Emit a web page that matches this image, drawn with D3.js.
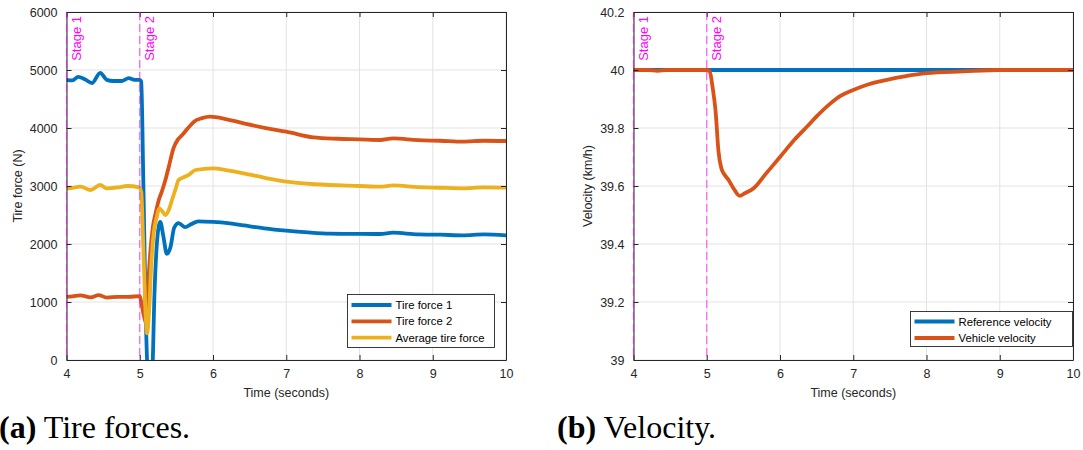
<!DOCTYPE html>
<html>
<head>
<meta charset="utf-8">
<script src="https://cdn.jsdelivr.net/npm/d3@7"></script>
<style>
  html, body { margin: 0; padding: 0; background: #fff; }
  svg { display: block; }
</style>
</head>
<body>
<svg id="fig" width="1083" height="450"></svg>
<script>
// ---- Tire forces (N) ----
const timeForce1 = [4.0, 4.08, 4.16, 4.25, 4.35, 4.46, 4.55, 4.64, 4.75, 4.85, 4.93, 5.0, 5.02, 5.05, 5.08, 5.11, 5.14, 5.17, 5.2, 5.24, 5.28, 5.32, 5.37, 5.42, 5.47, 5.53, 5.62, 5.7, 5.8, 6.0, 6.2, 6.42, 6.7, 7.0, 7.3, 7.6, 8.0, 8.28, 8.46, 8.8, 9.1, 9.41, 9.7, 10.0];
const force1 = [4830, 4820, 4880, 4840, 4775, 4950, 4830, 4810, 4810, 4860, 4830, 4830, 4800, 3000, 900, -300, -600, -300, 1100, 2100, 2380, 2150, 1830, 1950, 2280, 2360, 2290, 2340, 2390, 2380, 2360, 2320, 2270, 2230, 2200, 2180, 2175, 2172, 2195, 2165, 2160, 2150, 2165, 2150];

const timeForce2 = [4.0, 4.03, 4.19, 4.33, 4.44, 4.55, 4.7, 4.85, 5.0, 5.02, 5.05, 5.09, 5.12, 5.15, 5.18, 5.22, 5.26, 5.3, 5.35, 5.4, 5.46, 5.52, 5.58, 5.66, 5.74, 5.85, 5.96, 6.19, 6.42, 6.74, 7.0, 7.37, 7.7, 8.0, 8.28, 8.46, 8.8, 9.1, 9.41, 9.7, 10.0];
const force2 = [1090, 1092, 1115, 1080, 1120, 1075, 1090, 1090, 1100, 1000, 800, 640, 1400, 1950, 2300, 2550, 2758, 2900, 3103, 3350, 3650, 3800, 3879, 4000, 4109, 4170, 4195, 4150, 4080, 3994, 3937, 3839, 3815, 3805, 3793, 3822, 3790, 3780, 3764, 3780, 3776];

const timeAverage = [4.0, 4.03, 4.19, 4.33, 4.46, 4.55, 4.7, 4.83, 4.99, 5.02, 5.05, 5.08, 5.1, 5.13, 5.16, 5.19, 5.23, 5.27, 5.31, 5.35, 5.4, 5.44, 5.49, 5.53, 5.6, 5.68, 5.76, 6.0, 6.2, 6.42, 6.74, 7.0, 7.4, 8.0, 8.28, 8.46, 8.8, 9.1, 9.41, 9.7, 10.0];
const forceAverage = [2960, 2960, 2988, 2931, 3017, 2960, 2975, 3000, 2977, 2900, 1900, 800, 460, 900, 1700, 2184, 2450, 2615, 2560, 2500, 2600, 2758, 2950, 3103, 3150, 3200, 3276, 3305, 3270, 3218, 3132, 3075, 3030, 3000, 2988, 3010, 2980, 2970, 2960, 2975, 2971];

// ---- Velocity (km/h) ----
const timeReference = [4.0, 10.0];
const velocityReference = [40.0, 40.0];

const timeVehicle = [4.0, 4.2, 4.33, 4.45, 4.6, 5.0, 5.04, 5.08, 5.12, 5.16, 5.2, 5.23, 5.3, 5.37, 5.45, 5.52, 5.64, 5.8, 6.0, 6.2, 6.37, 6.5, 6.69, 6.82, 7.0, 7.2, 7.46, 7.7, 8.0, 8.5, 9.0, 9.5, 10.0];
const velocityVehicle = [40.0, 40.0, 39.997, 40.0, 40.0, 40.0, 39.995, 39.94, 39.86, 39.72, 39.66, 39.644, 39.62, 39.59, 39.566, 39.575, 39.592, 39.64, 39.70, 39.76, 39.805, 39.84, 39.885, 39.91, 39.931, 39.95, 39.966, 39.978, 39.989, 39.995, 40.0, 40.0, 40.0];

// ---- Axes, ticks, annotations ----
const timeTicks = [4, 5, 6, 7, 8, 9, 10];
const forceTicks = [0, 1000, 2000, 3000, 4000, 5000, 6000];
const velocityTicks = [39, 39.2, 39.4, 39.6, 39.8, 40, 40.2];
const stageTimes = [4, 5];
const stageLabels = ["Stage 1", "Stage 2"];

const colors = { blue: "#0072BD", orange: "#D95319", yellow: "#EDB120" };
const axisColor = "#262626";
const gridColor = "#e3e3e3";
const stageColor = "#ff00ff";
const sansFont = "'Liberation Sans', Arial, Helvetica, sans-serif";
const serifFont = "'Liberation Serif', 'DejaVu Serif', serif";

const svg = d3.select("#fig");

function zip(ts, vs) { return ts.map((t, i) => ({ t, v: vs[i] })); }

function drawPanel(opts) {
  const { left, right, top, bottom, yDomain, yTicks, yFormat, yLabel, yLabelX, series, legend, clipId } = opts;
  const x = d3.scaleLinear().domain([4, 10]).range([left, right]);
  const y = d3.scaleLinear().domain(yDomain).range([bottom, top]);
  const g = svg.append("g");

  g.append("clipPath").attr("id", clipId)
    .append("rect").attr("x", left).attr("y", top)
    .attr("width", right - left).attr("height", bottom - top);

  // grid
  g.append("g").selectAll("line").data(timeTicks).join("line")
    .attr("x1", d => x(d)).attr("x2", d => x(d))
    .attr("y1", top).attr("y2", bottom)
    .attr("stroke", gridColor).attr("stroke-width", 1);
  g.append("g").selectAll("line").data(yTicks).join("line")
    .attr("x1", left).attr("x2", right)
    .attr("y1", d => y(d)).attr("y2", d => y(d))
    .attr("stroke", gridColor).attr("stroke-width", 1);

  // data lines
  const line = d3.line().x(d => x(d.t)).y(d => y(d.v)).curve(d3.curveMonotoneX);
  const lines = g.append("g").attr("clip-path", `url(#${clipId})`);
  series.forEach(s => {
    lines.append("path").datum(zip(s.t, s.v))
      .attr("d", line).attr("fill", "none")
      .attr("stroke", s.color).attr("stroke-width", 3.8)
      .attr("stroke-linejoin", "round").attr("stroke-linecap", "round");
  });

  // axes (box with inward ticks on all sides)
  const tickLen = 5;
  const xBottom = d3.axisBottom(x).tickValues(timeTicks).tickSizeInner(-tickLen).tickSizeOuter(0).tickPadding(9).tickFormat(d3.format("d"));
  const xTop = d3.axisTop(x).tickValues(timeTicks).tickSizeInner(-tickLen).tickSizeOuter(0).tickFormat("");
  const yLeft = d3.axisLeft(y).tickValues(yTicks).tickSizeInner(-tickLen).tickSizeOuter(0).tickPadding(9).tickFormat(yFormat);
  const yRight = d3.axisRight(y).tickValues(yTicks).tickSizeInner(-tickLen).tickSizeOuter(0).tickFormat("");

  const styleAxis = sel => {
    sel.select(".domain").attr("stroke", axisColor).attr("stroke-width", 1);
    sel.selectAll(".tick line").attr("stroke", axisColor).attr("stroke-width", 1);
    sel.selectAll(".tick text").attr("fill", axisColor)
      .style("font-family", sansFont).style("font-size", "12.5px");
  };
  g.append("g").attr("transform", `translate(0,${bottom})`).call(xBottom).call(styleAxis);
  g.append("g").attr("transform", `translate(0,${top})`).call(xTop).call(styleAxis);
  g.append("g").attr("transform", `translate(${left},0)`).call(yLeft).call(styleAxis);
  g.append("g").attr("transform", `translate(${right},0)`).call(yRight).call(styleAxis);

  // stage markers
  stageTimes.forEach((st, i) => {
    g.append("line")
      .attr("x1", x(st)).attr("x2", x(st)).attr("y1", top).attr("y2", bottom)
      .attr("stroke", stageColor).attr("stroke-opacity", 0.55)
      .attr("stroke-width", 1.3).attr("stroke-dasharray", "8,4");
    g.append("text")
      .attr("transform", `translate(${x(st) + 14},${top + 4}) rotate(-90)`)
      .attr("text-anchor", "end")
      .attr("fill", stageColor)
      .style("font-family", sansFont).style("font-size", "13px")
      .text(stageLabels[i]);
  });

  // axis labels
  g.append("text")
    .attr("x", (left + right) / 2).attr("y", 397)
    .attr("text-anchor", "middle").attr("fill", axisColor)
    .style("font-family", sansFont).style("font-size", "12.5px")
    .text("Time (seconds)");
  g.append("text")
    .attr("transform", `translate(${yLabelX},${(top + bottom) / 2}) rotate(-90)`)
    .attr("text-anchor", "middle").attr("fill", axisColor)
    .style("font-family", sansFont).style("font-size", "12.5px")
    .text(yLabel);

  // legend
  const lg = g.append("g");
  lg.append("rect")
    .attr("x", legend.x).attr("y", legend.y)
    .attr("width", legend.w).attr("height", legend.h)
    .attr("fill", "#fff").attr("stroke", axisColor).attr("stroke-width", 0.9);
  series.forEach((s, i) => {
    const ry = legend.y + legend.firstRow + i * legend.rowGap;
    lg.append("line")
      .attr("x1", legend.x + 4).attr("x2", legend.x + 44)
      .attr("y1", ry).attr("y2", ry)
      .attr("stroke", s.color).attr("stroke-width", 3.8);
    lg.append("text")
      .attr("x", legend.x + 48).attr("y", ry + 4)
      .attr("fill", "#000")
      .style("font-family", sansFont).style("font-size", "11.3px")
      .text(s.name);
  });
}

drawPanel({
  left: 66.5, right: 506, top: 12, bottom: 360,
  yDomain: [0, 6000], yTicks: forceTicks, yFormat: d3.format("d"),
  yLabel: "Tire force (N)", yLabelX: 22, clipId: "clipForce",
  series: [
    { name: "Tire force 1", t: timeForce1, v: force1, color: colors.blue },
    { name: "Tire force 2", t: timeForce2, v: force2, color: colors.orange },
    { name: "Average tire force", t: timeAverage, v: forceAverage, color: colors.yellow }
  ],
  legend: { x: 347.5, y: 294.5, w: 147, h: 53, firstRow: 10.5, rowGap: 16.3 }
});

drawPanel({
  left: 633.5, right: 1073, top: 12, bottom: 360,
  yDomain: [39, 40.2], yTicks: velocityTicks, yFormat: d => d3.format("~g")(d),
  yLabel: "Velocity (km/h)", yLabelX: 592, clipId: "clipVelocity",
  series: [
    { name: "Reference velocity", t: timeReference, v: velocityReference, color: colors.blue },
    { name: "Vehicle velocity", t: timeVehicle, v: velocityVehicle, color: colors.orange }
  ],
  legend: { x: 910.5, y: 311.5, w: 162, h: 35, firstRow: 10, rowGap: 16.5 }
});

// sub-figure captions
function caption(xPos, tag, text) {
  const t = svg.append("text")
    .attr("x", xPos).attr("y", 438)
    .attr("fill", "#000")
    .style("font-family", serifFont).style("font-size", "32px");
  t.append("tspan").style("font-weight", "bold").text(tag);
  t.append("tspan").text(" " + text);
}
caption(-1, "(a)", "Tire forces.");
caption(557, "(b)", "Velocity.");
</script>
</body>
</html>
